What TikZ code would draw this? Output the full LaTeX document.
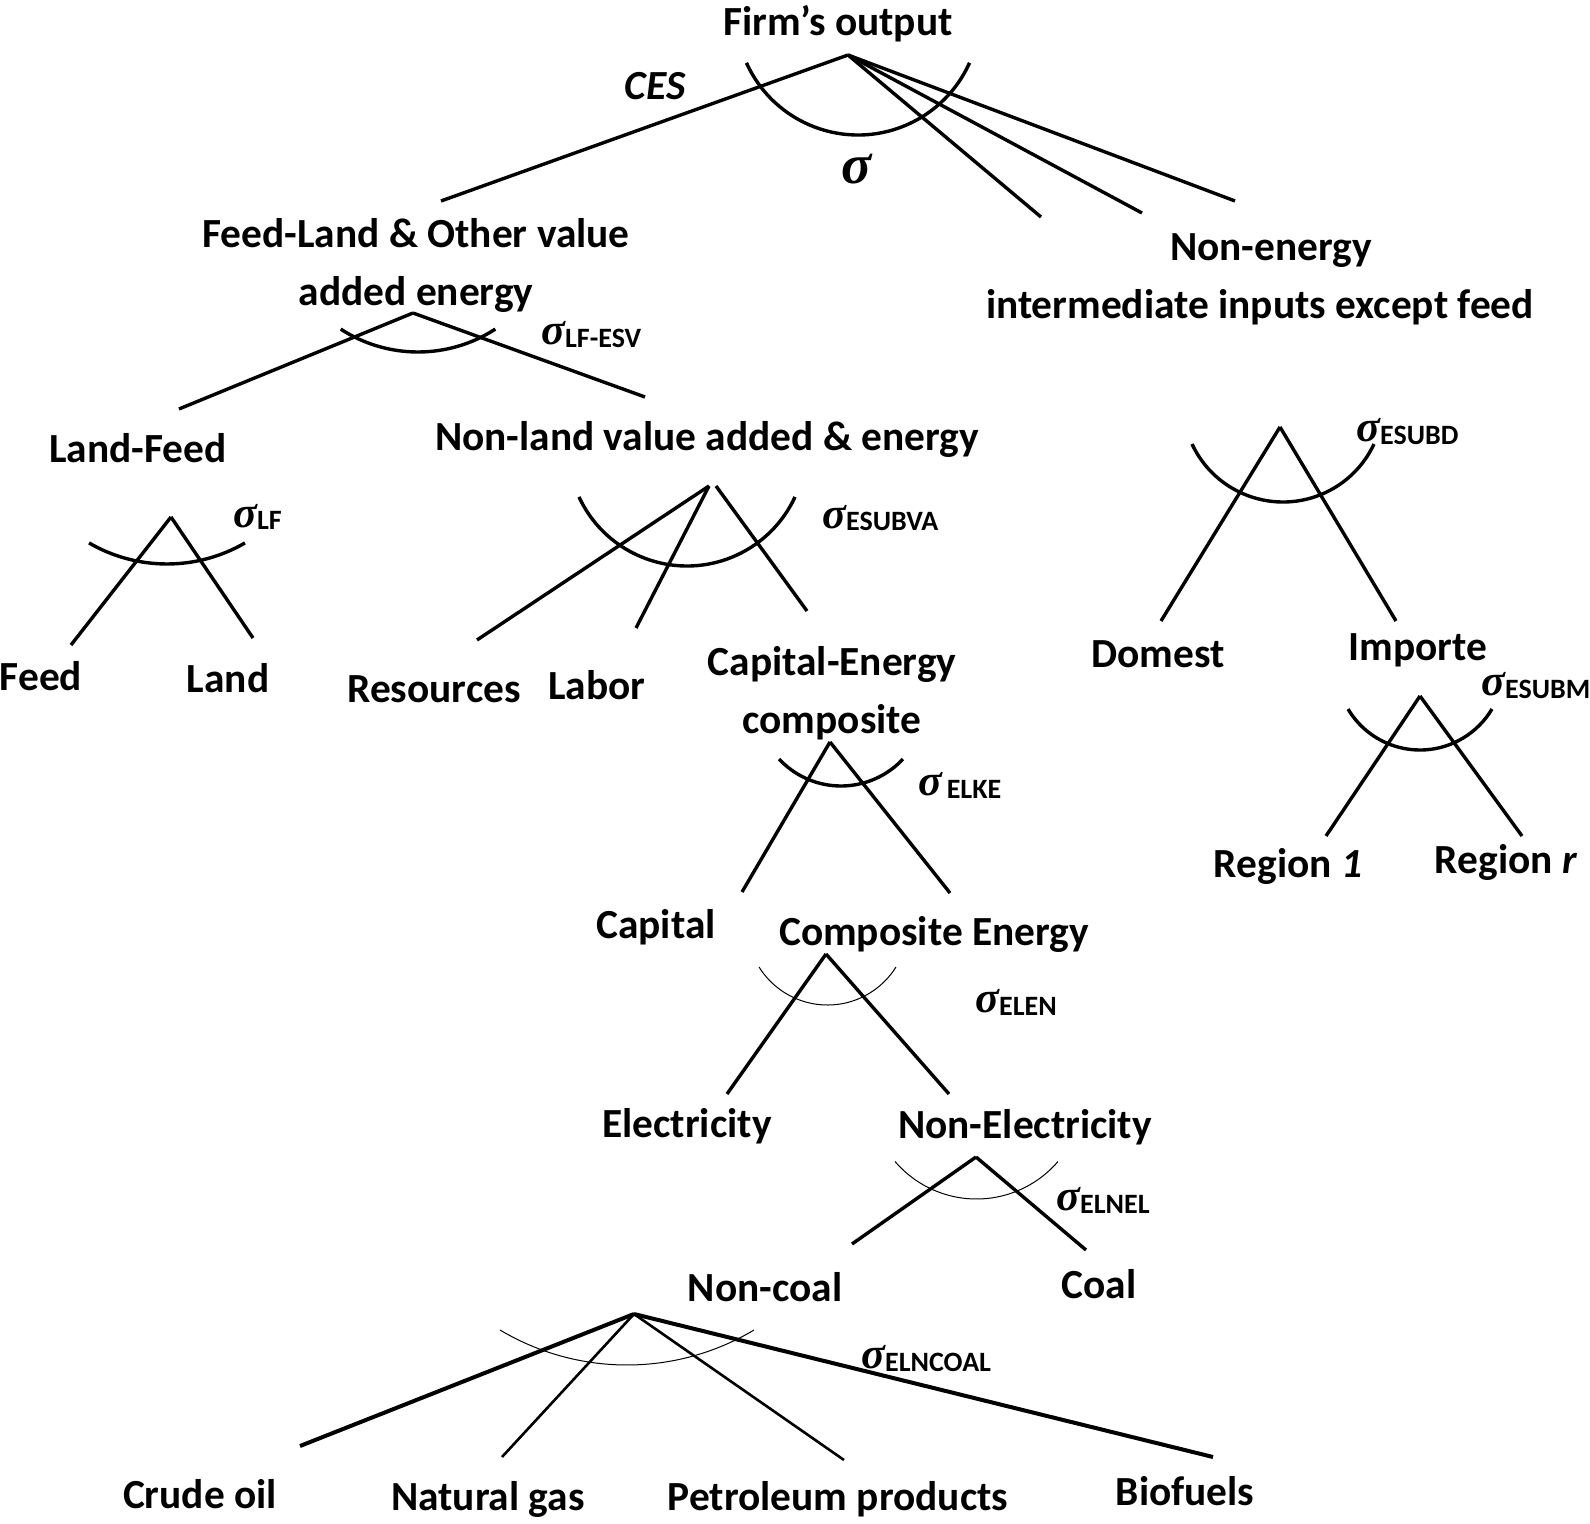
\documentclass[tikz,border=0pt]{standalone}
\usepackage{fontspec}
\setmainfont{Carlito}
\newfontfamily\sigfont{Liberation Serif}
\newcommand{\sgm}[1]{{\sigfont\fontsize{22}{22}\selectfont\bfseries\itshape σ}\raisebox{-1.5pt}{\fontsize{14}{14}\selectfont\bfseries #1}}
\newcommand{\elarc}[5]{\draw[#1] (#2,#3) ++({270-#5}:#4) arc[start angle={270-#5}, end angle={270+#5}, radius=#4];}
\tikzset{
  lbl/.style={font=\fontsize{20.7}{29}\selectfont\bfseries, inner sep=0pt, anchor=base},
  lbltwo/.style={lbl, text width=300pt, align=flush center},
  sig/.style={inner sep=0pt, anchor=base west},
  conn/.style={line width=1.7pt},
  connthin/.style={line width=1.3pt},
  connbold/.style={line width=2pt},
  thickarc/.style={line width=1.7pt},
  thinarc/.style={line width=0.5pt},
}
\begin{document}
\begin{tikzpicture}[x=0.5pt,y=-0.5pt]
\fill[white] (0,0) rectangle (1590,1524);
\useasboundingbox (0,0) rectangle (1590,1524);

% ---------- text nodes ----------
\node[lbl] (firm) at (838,36) {Firm’s output};
\node[lbl] (ces) at (655,100) {\itshape CES};
\node[sig] (stop) at (841,184) {{\sigfont\fontsize{28}{28}\selectfont\bfseries\itshape σ}};
\node[lbltwo] (feedland) at (416,248) {Feed-Land \& Other value\\added energy};
\node[lbltwo] (nonenergy) at (1260,261) {\hspace*{11pt}Non-energy\\intermediate inputs except feed};
\node[lbl] (landfeed) at (138,463) {Land-Feed};
\node[lbl] (nonland) at (707,451) {Non-land value added \& energy};
\node[lbl] (feed) at (41,690) {Feed};
\node[lbl] (land) at (228,692) {Land};
\node[lbl] (resources) at (434,702) {Resources};
\node[lbl] (labor) at (597,699) {Labor};
\node[lbltwo] (capen) at (832,675) {Capital-Energy\\composite};
\node[lbl] (capital) at (656,938) {Capital};
\node[lbl] (compen) at (934,945) {Composite Energy};
\node[lbl] (electricity) at (687,1137) {Electricity};
\node[lbl] (nonelec) at (1025,1138) {Non-Electricity};
\node[lbl] (noncoal) at (765,1301) {Non-coal};
\node[lbl] (coal) at (1099,1298) {Coal};
\node[lbl] (crude) at (200,1508) {Crude oil};
\node[lbl] (natgas) at (488,1510) {Natural gas};
\node[lbl] (petro) at (838,1510) {Petroleum products};
\node[lbl] (biofuels) at (1185,1505) {Biofuels};
\node[lbl] (domest) at (1158,667) {Domest};
\node[lbl] (importe) at (1418,660) {Importe};
\node[lbl] (region1) at (1288,877) {Region \textit{1}};
\node[lbl] (regionr) at (1506,873) {Region \textit{r}};

% ---------- sigma labels ----------
\node[sig] (sLFESV) at (541,345) {\sgm{LF-ESV}};
\node[sig] (sLF) at (233,527) {\sgm{LF}};
\node[sig] (sESUBVA) at (822,528) {\sgm{ESUBVA}};
\node[sig] (sELKE) at (918,795) {\sgm{\,ELKE}};
\node[sig] (sELEN) at (975,1012) {\sgm{ELEN}};
\node[sig] (sELNEL) at (1056,1210) {\sgm{ELNEL}};
\node[sig] (sELNCOAL) at (861,1368) {\sgm{ELNCOAL}};
\node[sig] (sESUBD) at (1356,442) {\sgm{ESUBD}};
\node[sig] (sESUBM) at (1481,695) {\sgm{ESUBM}};

% ---------- apex and end coordinates ----------
\coordinate (firmA) at (848,55);
\coordinate (flE) at (441,201);
\coordinate (m1E) at (1041,217);
\coordinate (m2E) at (1142,213);
\coordinate (neE) at (1235,201);

\coordinate (flA) at (413,313);
\coordinate (lfE) at (179,409);
\coordinate (nlE) at (645,397);

\coordinate (lfA) at (171,517);
\coordinate (feedE) at (71,645);
\coordinate (landE) at (253,638);

\coordinate (nlA) at (709,486);
\coordinate (nlB) at (716,486);
\coordinate (resE) at (477,640);
\coordinate (labE) at (636,628);
\coordinate (ceE) at (807,611);

\coordinate (ceA) at (830,742);
\coordinate (capE) at (742,892);
\coordinate (cenE) at (950,893);

\coordinate (cenA) at (826,954);
\coordinate (elE) at (727,1094);
\coordinate (neleE) at (949,1094);

\coordinate (neleA) at (976,1157);
\coordinate (ncE) at (852,1244);
\coordinate (coalE) at (1086,1250);

\coordinate (ncA) at (634,1314);
\coordinate (crudeE) at (300,1446);
\coordinate (gasE) at (502,1457);
\coordinate (petroE) at (844,1460);
\coordinate (bioE) at (1213,1457);

\coordinate (domA) at (1280,427);
\coordinate (domE) at (1161,621);
\coordinate (impE) at (1396,621);

\coordinate (impA) at (1420,696);
\coordinate (r1E) at (1326,836);
\coordinate (rrE) at (1522,836);

% ---------- connectors ----------
\draw[conn] (firmA) -- (flE);
\draw[conn] (firmA) -- (m1E);
\draw[conn] (firmA) -- (m2E);
\draw[conn] (firmA) -- (neE);

\draw[conn] (flA) -- (lfE);
\draw[conn] (flA) -- (nlE);

\draw[conn] (lfA) -- (feedE);
\draw[conn] (lfA) -- (landE);

\draw[conn] (nlA) -- (resE);
\draw[conn] (nlA) -- (labE);
\draw[conn] (nlB) -- (ceE);

\draw[conn] (ceA) -- (capE);
\draw[conn] (ceA) -- (cenE);

\draw[conn] (cenA) -- (elE);
\draw[conn] (cenA) -- (neleE);

\draw[conn] (neleA) -- (ncE);
\draw[conn] (neleA) -- (coalE);

\draw[connbold] (ncA) -- (crudeE);
\draw[connthin] (ncA) -- (gasE);
\draw[connthin] (ncA) -- (petroE);
\draw[connbold] (ncA) -- (bioE);

\draw[conn] (domA) -- (domE);
\draw[conn] (domA) -- (impE);

\draw[conn] (impA) -- (r1E);
\draw[conn] (impA) -- (rrE);

% ---------- substitution arcs ----------
\elarc{thickarc}{858}{12.7}{61.15pt}{65.8}
\elarc{thickarc}{418}{210}{71pt}{33}
\elarc{thickarc}{167}{409}{77.5pt}{30.2}
\elarc{thickarc}{687}{447}{59.5pt}{65.2}
\elarc{thickarc}{1283}{401.6}{50.2pt}{65}
\elarc{thickarc}{1420}{666.3}{41.85pt}{59.3}
\elarc{thickarc}{841}{701.3}{42.35pt}{47}
\elarc{thinarc}{827.5}{924.3}{40.35pt}{58}
\elarc{thinarc}{976.5}{1091.7}{53.65pt}{49.4}
\elarc{thinarc}{627}{1117}{124pt}{30.8}
\end{tikzpicture}
\end{document}
